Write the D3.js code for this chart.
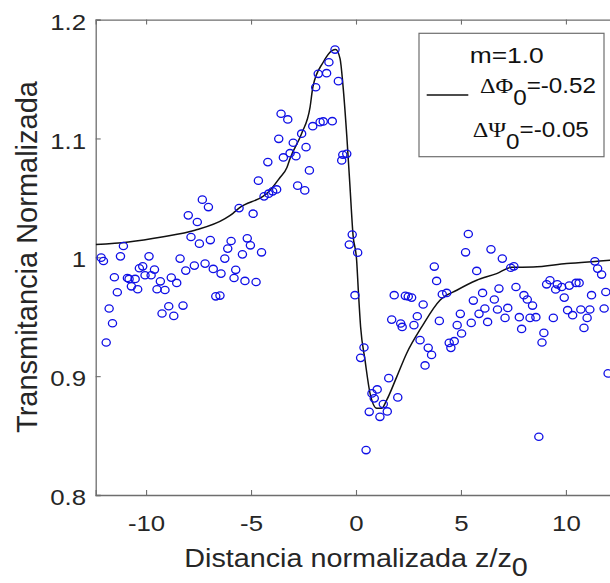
<!DOCTYPE html>
<html>
<head>
<meta charset="utf-8">
<script src="https://cdn.jsdelivr.net/npm/d3@7"></script>
<style>
  html, body { margin: 0; padding: 0; background: #fff; }
  svg { display: block; font-family: "Liberation Sans", Arial, sans-serif; }
</style>
</head>
<body>
<svg id="chart" width="610" height="583"></svg>
<script>
// Z-scan: measured normalized transmittance (circles) and fitted curve.

const X_TICKS = [-10, -5, 0, 5, 10];
const Y_TICKS = [0.8, 0.9, 1.0, 1.1, 1.2];
const Y_TICK_LABELS = ["0.8", "0.9", "1", "1.1", "1.2"];

// measured points: z/z0 and normalized transmittance
const zPos = [
  -7.32, -7.03, -7.99, -7.56, -6.94, -7.86, -7.46, -11.08, -12.14, -12.03,
  -11.22, -9.86, -8.38, -7.70, -7.19, -6.80, -8.11, -6.43, -6.25, -10.32,
  -10.16, -9.60, -10.05, -9.76, -11.51, -10.89, -10.81, -10.52, -9.32, -8.80,
  -8.54, -10.70, -10.40, -9.48, -9.10, -11.37, -6.68, -6.48, -8.92, -8.24,
  -9.24, -8.68, -11.76, -11.60, -11.90,
  -3.57, -3.25, -2.59, -3.68, -2.99, -2.38, -3.14, -2.86, -3.46, -4.20,
  -2.22, -4.65, -2.78, -2.44, -4.38, -4.16, -3.97, -3.78, -5.57, -4.90,
  -5.95, -5.18, -6.11, -5.03, -5.41, -4.50, -5.73, -5.81, -5.29, -4.76,
  -1.00, -1.29, -1.80, -1.40, -1.92, -0.84, -1.13, -1.56, -1.71, -2.06,
  -0.68, -0.63, -0.44, -0.18, -0.32, 0.08,
  -0.05, 1.82, 2.35, 2.49, 2.65, 1.70, 2.13, 2.20, 2.76, 2.92,
  3.05, 0.38, 0.22, 1.56, 1.01, 0.76, 0.87, 1.99, 1.30, 0.63,
  1.49, 1.14, 0.48,
  5.35, 5.22, 6.43, 6.97, 7.37, 7.52, 3.73, 5.75, 3.84, 6.81,
  4.11, 4.32, 6.03, 5.59, 6.59, 3.20, 6.14, 6.74, 7.23, 4.97,
  5.86, 3.97, 4.82, 5.49, 6.27, 7.10, 5.03, 3.44, 3.60, 4.44,
  4.68, 4.52, 3.29,
  7.62, 9.24, 9.08, 9.59, 9.80, 9.51, 10.16, 10.48, 10.63, 8.00,
  8.16, 8.41, 9.92, 11.22, 11.90, 7.78, 8.29, 8.57, 9.40, 10.08,
  10.32, 10.71, 11.14, 11.01, 11.82, 7.89, 8.95, 8.86, 10.86, 12.01,
  8.71, 11.38, 11.51, 11.70,
];
const transm = [
  1.0485, 1.0423, 1.0353, 1.0297, 1.0145, 1.0171, 1.0115, 1.0095, 0.9997, 0.9969,
  1.0008, 1.0008, 0.9989, 0.9930, 0.9947, 0.9902, 0.9888, 0.9863, 0.9989, 0.9908,
  0.9924, 0.9897, 0.9849, 0.9849, 0.9832, 0.9826, 0.9818, 0.9818, 0.9798, 0.9829,
  0.9784, 0.9756, 0.9731, 0.9731, 0.9725, 0.9706, 0.9672, 0.9678, 0.9588, 0.9594,
  0.9527, 0.9507, 0.9569, 0.9445, 0.9283,
  1.1208, 1.1160, 1.1040, 1.0997, 1.0964, 1.0927, 1.0876, 1.0851, 1.0840, 1.0801,
  1.0731, 1.0645, 1.0603, 1.0563, 1.0513, 1.0535, 1.0555, 1.0571, 1.0414, 1.0367,
  1.0137, 1.0160, 1.0073, 1.0101, 1.0025, 1.0042, 0.9895, 0.9826, 0.9801, 0.9792,
  1.1748, 1.1641, 1.1544, 1.1549, 1.1431, 1.1482, 1.1145, 1.1143, 1.1137, 1.1103,
  1.0815, 1.0863, 1.0871, 1.0191, 1.0107, 1.0039,
  0.9681, 0.9681, 0.9676, 0.9670, 0.9661, 0.9476, 0.9443, 0.9414, 0.9429, 0.9504,
  0.9303, 0.9241, 0.9154, 0.8983, 0.8888, 0.8855, 0.8813, 0.8821, 0.8765, 0.8700,
  0.8703, 0.8658, 0.8378,
  1.0196, 1.0042, 1.0067, 0.9989, 0.9912, 0.9924, 0.9922, 0.9885, 0.9801, 0.9737,
  0.9689, 0.9700, 0.9700, 0.9636, 0.9645, 0.9603, 0.9569, 0.9561, 0.9574, 0.9524,
  0.9524, 0.9465, 0.9429, 0.9448, 0.9456, 0.9490, 0.9359, 0.9238, 0.9179, 0.9280,
  0.9294, 0.9238, 0.9090,
  0.9750, 0.9807, 0.9773, 0.9773, 0.9750, 0.9729, 0.9762, 0.9784, 0.9784, 0.9681,
  0.9645, 0.9594, 0.9661, 0.9681, 0.9708, 0.9496, 0.9490, 0.9496, 0.9490, 0.9555,
  0.9513, 0.9561, 0.9561, 0.9490, 0.9569, 0.9397, 0.9364, 0.9283, 0.9406, 0.9023,
  0.8490, 0.9966, 0.9905, 0.9855,
];

// fitted curve
const fitZ = [
  -12.40, -10.84, -9.25, -7.67, -6.24, -5.86, -5.57, -4.43, -4.24, -3.62,
  -3.29, -3.14, -2.59, -2.19, -2.05, -1.57, -1.14, -0.97, -0.76, -0.62,
  -0.44, -0.29, -0.14, 0.03, 0.11, 0.22, 0.43, 0.67, 0.99, 1.22,
  1.46, 1.94, 2.41, 3.13, 4.00, 4.80, 5.75, 6.70, 7.41, 8.44,
  10.03, 11.62, 12.40,
];
const fitT = [
  1.0107, 1.0129, 1.0171, 1.0227, 1.0325, 1.0370, 1.0414, 1.0513, 1.0538, 1.0672,
  1.0756, 1.0832, 1.1042, 1.1261, 1.1437, 1.1639, 1.1739, 1.1748, 1.1672, 1.1445,
  1.1025, 1.0605, 1.0185, 0.9975, 0.9723, 0.9414, 0.9134, 0.8855, 0.8729, 0.8729,
  0.8798, 0.8994, 0.9191, 0.9414, 0.9639, 0.9723, 0.9807, 0.9863, 0.9916, 0.9918,
  0.9947, 0.9969, 0.9980,
];

const LEGEND_M = "m=1.0";
const LEGEND_PHI = "-0.52";
const LEGEND_PSI = "-0.05";

const svg = d3.select("#chart");
const L = 95.7, R = 616.3, T = 19.6, B = 495;
const SX = 1.2; // glyphs in the reference are horizontally stretched

const x = d3.scaleLinear().domain([-12.4, 12.4]).range([L, R]);
const y = d3.scaleLinear().domain([0.8, 1.2]).range([B, T]);

svg.append("defs").append("clipPath").attr("id", "plotClip")
  .append("rect").attr("x", L).attr("y", T).attr("width", R - L).attr("height", B - T);

const AXIS = "#6e6e6e", TXT = "#262626";

// ---- axes ----
const gx = svg.append("g").attr("transform", `translate(0,${B})`)
  .call(d3.axisBottom(x).tickValues(X_TICKS).tickSize(-5).tickPadding(21)
    .tickFormat(d3.format("d")));
const gxTop = svg.append("g").attr("transform", `translate(0,${T})`)
  .call(d3.axisTop(x).tickValues(X_TICKS).tickSize(-5).tickFormat(""));
const gy = svg.append("g").attr("transform", `translate(${L},0)`)
  .call(d3.axisLeft(y).tickValues(Y_TICKS).tickSize(-5).tickPadding(8)
    .tickFormat((d, i) => Y_TICK_LABELS[i]));
const gyRight = svg.append("g").attr("transform", `translate(${R},0)`)
  .call(d3.axisRight(y).tickValues(Y_TICKS).tickSize(-5).tickFormat(""));

[gx, gxTop, gy, gyRight].forEach((g) => {
  g.select(".domain").attr("stroke", AXIS).attr("stroke-width", 1.3);
  g.selectAll(".tick line").attr("stroke", AXIS).attr("stroke-width", 1.1);
  g.selectAll(".tick text").attr("fill", TXT)
    .style("font-family", '"Liberation Sans", Arial, sans-serif')
    .style("font-size", "21.5px")
    .attr("transform", `scale(${SX},1)`);
});
gx.selectAll(".tick text").text((d) => (d < 0 ? "-" + Math.abs(d) : d));
gy.selectAll(".tick text").attr("dy", "0.45em");

// ---- data ----
const plot = svg.append("g").attr("clip-path", "url(#plotClip)");

const line = d3.line().x((d, i) => x(fitZ[i])).y((d, i) => y(fitT[i]))
  .curve(d3.curveMonotoneX);
plot.append("path").datum(fitZ).attr("d", line)
  .attr("fill", "none").attr("stroke", "#111").attr("stroke-width", 1.5);

plot.append("g").selectAll("ellipse").data(zPos).join("ellipse")
  .attr("cx", (d) => x(d)).attr("cy", (d, i) => y(transm[i]))
  .attr("rx", 4.1).attr("ry", 3.7)
  .attr("fill", "none").attr("stroke", "#1010e6").attr("stroke-width", 1.3);

// ---- axis titles ----
const xt = svg.append("g").attr("transform", `translate(356,567) scale(1.15,1)`)
  .append("text").attr("text-anchor", "middle").attr("fill", TXT)
  .style("font-size", "25px");
xt.append("tspan").text("Distancia normalizada z/z");
xt.append("tspan").attr("dy", 9).text("0");

svg.append("text")
  .attr("transform", "translate(37,257) rotate(-90)")
  .attr("text-anchor", "middle").attr("fill", TXT)
  .style("font-size", "29px")
  .text("Transmitancia Normalizada");

// ---- legend ----
const leg = svg.append("g");
leg.append("rect").attr("x", 419).attr("y", 33.3).attr("width", 185).attr("height", 123.4)
  .attr("fill", "#fff").attr("stroke", AXIS).attr("stroke-width", 1.2);
leg.append("line").attr("x1", 426.7).attr("x2", 468.3).attr("y1", 95).attr("y2", 95)
  .attr("stroke", "#111").attr("stroke-width", 1.5);

function legText(tx, ty, anchor, sx) {
  return leg.append("g").attr("transform", `translate(${tx},${ty}) scale(${sx},1)`)
    .append("text").attr("text-anchor", anchor).attr("fill", "#111")
    .style("font-size", "22px");
}
legText(506.7, 62.7, "middle", SX).text(LEGEND_M);

const t2 = legText(480, 93.3, "start", 1.1);
t2.append("tspan").style("font-family", '"Liberation Serif", serif').text("ΔΦ");
t2.append("tspan").attr("dy", 12).text("0");
t2.append("tspan").attr("dy", -12).text("=" + LEGEND_PHI);

const t3 = legText(472.7, 136.7, "start", 1.1);
t3.append("tspan").style("font-family", '"Liberation Serif", serif').text("ΔΨ");
t3.append("tspan").attr("dy", 12).text("0");
t3.append("tspan").attr("dy", -12).text("=" + LEGEND_PSI);
</script>
</body>
</html>
